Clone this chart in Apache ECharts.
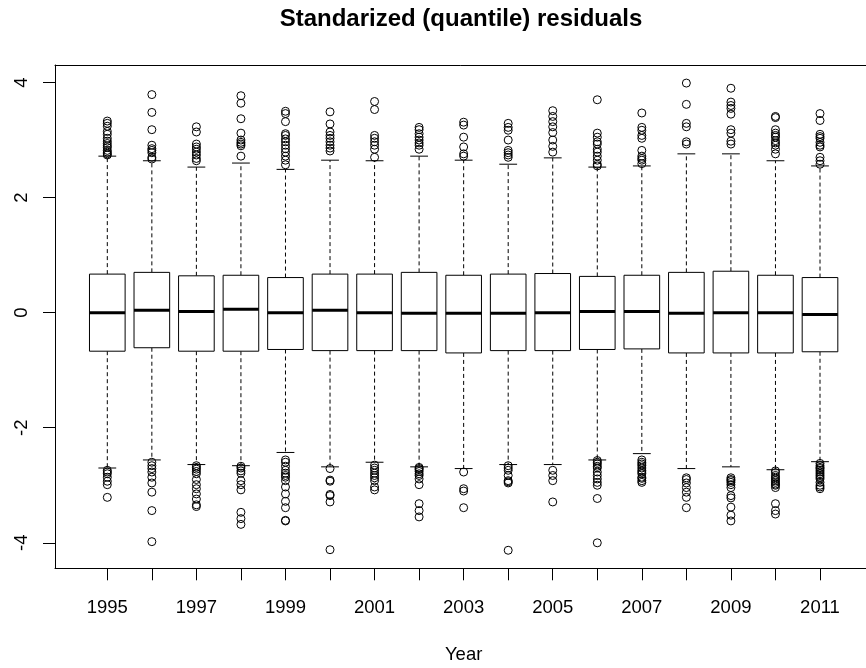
<!DOCTYPE html>
<html>
<head>
<meta charset="utf-8">
<script src="https://cdn.jsdelivr.net/npm/echarts@6/dist/echarts.min.js"></script>
<style>
html,body{margin:0;padding:0;background:#fff;}
#chart{width:866px;height:668px;}
</style>
</head>
<body>
<div id="chart"></div>
<script>
var years = ['1995','1996','1997','1998','1999','2000','2001','2002','2003','2004','2005','2006','2007','2008','2009','2010','2011'];
var yTicks = [-4, -2, 0, 2, 4];

var lowerWhisker = [-2.70,-2.56,-2.64,-2.66,-2.43,-2.68,-2.60,-2.68,-2.71,-2.64,-2.64,-2.56,-2.45,-2.71,-2.68,-2.73,-2.59];
var q1 = [-0.67,-0.61,-0.67,-0.67,-0.64,-0.66,-0.66,-0.66,-0.70,-0.66,-0.66,-0.64,-0.63,-0.70,-0.70,-0.70,-0.68];
var median = [0.00,0.04,0.02,0.06,0.00,0.04,0.00,-0.01,-0.01,-0.01,0.00,0.02,0.02,-0.01,0.00,0.00,-0.03];
var q3 = [0.67,0.70,0.64,0.65,0.61,0.67,0.67,0.70,0.65,0.67,0.68,0.63,0.65,0.70,0.72,0.65,0.61];
var upperWhisker = [2.72,2.64,2.53,2.60,2.49,2.65,2.64,2.72,2.65,2.58,2.69,2.53,2.55,2.76,2.76,2.64,2.55];

var outliersHigh = [
  [3.33,3.29,3.24,3.15,3.10,3.03,2.98,2.94,2.90,2.87,2.82,2.79,2.76,2.74],
  [3.79,3.48,3.18,2.91,2.85,2.82,2.78,2.70,2.67],
  [3.23,3.14,2.93,2.88,2.84,2.79,2.74,2.68,2.64],
  [3.77,3.64,3.37,3.12,3.00,2.96,2.93,2.90,2.72],
  [3.50,3.46,3.32,3.11,3.08,3.02,2.97,2.91,2.85,2.79,2.72,2.65,2.57],
  [3.49,3.28,3.14,3.08,3.03,2.97,2.91,2.86,2.81],
  [3.67,3.53,3.08,3.03,2.97,2.91,2.84,2.70],
  [3.22,3.18,3.11,3.05,3.00,2.95,2.91,2.84],
  [3.31,3.26,3.05,2.88,2.76,2.72],
  [3.29,3.22,3.17,3.00,2.82,2.78,2.74,2.70],
  [3.51,3.41,3.32,3.23,3.13,3.00,2.89,2.79],
  [3.70,3.12,3.05,2.97,2.93,2.84,2.79,2.72,2.65,2.58,2.55],
  [3.47,3.22,3.17,3.08,3.03,2.82,2.72,2.68,2.65,2.59],
  [3.99,3.62,3.29,3.23,2.97,2.93],
  [3.90,3.66,3.60,3.55,3.45,3.18,3.12,2.98,2.93],
  [3.41,3.39,3.18,3.12,3.08,3.05,2.99,2.95,2.91,2.84,2.76],
  [3.46,3.34,3.10,3.06,3.03,2.96,2.91,2.88,2.70,2.64,2.58]
];

var outliersLow = [
  [-2.74,-2.77,-2.80,-2.86,-2.93,-2.99,-3.21],
  [-2.60,-2.66,-2.71,-2.77,-2.86,-2.96,-3.12,-3.44,-3.98],
  [-2.66,-2.69,-2.72,-2.76,-2.80,-2.90,-2.99,-3.06,-3.15,-3.24,-3.34,-3.37],
  [-2.67,-2.70,-2.75,-2.79,-2.92,-2.99,-3.08,-3.47,-3.58,-3.68],
  [-2.56,-2.60,-2.67,-2.74,-2.79,-2.83,-2.86,-2.92,-3.03,-3.15,-3.28,-3.39,-3.61,-3.62],
  [-2.71,-2.91,-2.93,-3.16,-3.18,-3.29,-4.12],
  [-2.65,-2.70,-2.74,-2.79,-2.83,-2.87,-2.92,-3.03,-3.08],
  [-2.69,-2.71,-2.73,-2.76,-2.80,-2.83,-2.89,-2.99,-3.32,-3.44,-3.55],
  [-2.77,-3.06,-3.10,-3.39],
  [-2.66,-2.70,-2.74,-2.83,-2.92,-2.94,-2.96,-4.13],
  [-2.74,-2.83,-2.92,-3.29],
  [-2.57,-2.60,-2.63,-2.67,-2.70,-2.77,-2.83,-2.89,-2.95,-3.00,-3.23,-4.00],
  [-2.56,-2.60,-2.63,-2.66,-2.70,-2.74,-2.77,-2.80,-2.86,-2.88,-2.92,-2.95],
  [-2.87,-2.90,-2.96,-3.04,-3.12,-3.21,-3.39],
  [-2.87,-2.90,-2.92,-2.95,-2.99,-3.04,-3.18,-3.22,-3.38,-3.52,-3.62],
  [-2.75,-2.78,-2.83,-2.86,-2.89,-2.92,-2.95,-2.98,-3.00,-3.04,-3.32,-3.44,-3.50],
  [-2.62,-2.66,-2.69,-2.71,-2.74,-2.77,-2.80,-2.83,-2.86,-2.89,-2.95,-3.00,-3.03,-3.06]
];

var boxData = years.map(function (y, i) {
  return [i + 1, lowerWhisker[i], q1[i], median[i], q3[i], upperWhisker[i]];
});
var outlierData = [];
years.forEach(function (y, i) {
  outliersHigh[i].forEach(function (v) { outlierData.push([i + 1, v]); });
  outliersLow[i].forEach(function (v) { outlierData.push([i + 1, v]); });
});

var FONT = '"Liberation Sans", Arial, sans-serif';
var chart = echarts.init(document.getElementById('chart'), null, {renderer: 'canvas'});

function renderBox(params, api) {
  var x = api.value(0);
  var half = api.size([0.8, 0])[0] / 2;
  var capHalf = half / 2;
  var pLow = api.coord([x, api.value(1)]);
  var pQ1 = api.coord([x, api.value(2)]);
  var pMed = api.coord([x, api.value(3)]);
  var pQ3 = api.coord([x, api.value(4)]);
  var pHigh = api.coord([x, api.value(5)]);
  var cx = pMed[0];
  var dash = {stroke: '#000', lineWidth: 1, lineDash: [4, 3]};
  var solid = {stroke: '#000', lineWidth: 1};
  return {
    type: 'group',
    children: [
      {type: 'line', shape: {x1: cx, y1: pQ3[1], x2: cx, y2: pHigh[1]}, style: dash},
      {type: 'line', shape: {x1: cx, y1: pQ1[1], x2: cx, y2: pLow[1]}, style: dash},
      {type: 'line', shape: {x1: cx - capHalf, y1: pHigh[1], x2: cx + capHalf, y2: pHigh[1]}, style: solid},
      {type: 'line', shape: {x1: cx - capHalf, y1: pLow[1], x2: cx + capHalf, y2: pLow[1]}, style: solid},
      {type: 'rect', shape: {x: cx - half, y: pQ3[1], width: 2 * half, height: pQ1[1] - pQ3[1]},
        style: {fill: '#fff', stroke: '#000', lineWidth: 1}},
      {type: 'line', shape: {x1: cx - half, y1: pMed[1], x2: cx + half, y2: pMed[1]},
        style: {stroke: '#000', lineWidth: 3}}
    ]
  };
}

function frameAxis(gridIndex, position) {
  return {
    type: 'value', gridIndex: gridIndex, min: 0, max: 1, position: position,
    axisLine: {show: true, onZero: false, lineStyle: {color: '#000', width: 1}},
    axisTick: {show: false}, axisLabel: {show: false}, splitLine: {show: false}
  };
}

var option = {
  animation: false,
  backgroundColor: '#fff',
  textStyle: {fontFamily: FONT},
  title: {
    text: 'Standarized (quantile) residuals',
    left: 461,
    top: 7,
    padding: 0,
    textAlign: 'center',
    textStyle: {fontFamily: FONT, fontWeight: 'bold', fontSize: 24, color: '#000'}
  },
  grid: [
    {left: 107.3, right: 46, top: 82.5, bottom: 125.2, containLabel: false, outerBoundsMode: 'none'},
    {left: 55, width: 818, top: 65, bottom: 99.7, show: false, containLabel: false, outerBoundsMode: 'none'}
  ],
  xAxis: [
    {
      type: 'value', gridIndex: 0, min: 1, max: 17, interval: 1, offset: 25.5,
      position: 'bottom',
      splitLine: {show: false},
      axisLine: {show: true, onZero: false, lineStyle: {color: '#000', width: 1}},
      axisTick: {show: true, length: 12, lineStyle: {color: '#000', width: 1}},
      axisLabel: {
        show: true, margin: 30, fontSize: 18.5, color: '#000', fontFamily: FONT,
        formatter: function (v) {
          var i = Math.round(v) - 1;
          return (i % 2 === 0) ? years[i] : '';
        }
      },
      name: 'Year', nameLocation: 'middle', nameGap: 77,
      nameTextStyle: {fontSize: 18.5, color: '#000', fontFamily: FONT}
    },
    frameAxis(1, 'bottom'),
    frameAxis(1, 'top')
  ],
  yAxis: [
    {
      type: 'value', gridIndex: 0, min: yTicks[0], max: yTicks[yTicks.length - 1], interval: 2,
      offset: 52.3, position: 'left',
      splitLine: {show: false},
      axisLine: {show: true, onZero: false, lineStyle: {color: '#000', width: 1}},
      axisTick: {show: true, length: 12, lineStyle: {color: '#000', width: 1}},
      axisLabel: {show: true, rotate: 90, margin: 24, fontSize: 18.5, color: '#000', fontFamily: FONT}
    },
    frameAxis(1, 'left'),
    frameAxis(1, 'right')
  ],
  series: [
    {
      type: 'custom',
      xAxisIndex: 0, yAxisIndex: 0,
      renderItem: renderBox,
      encode: {x: 0, y: [1, 2, 3, 4, 5]},
      data: boxData,
      clip: false,
      z: 2
    },
    {
      type: 'scatter',
      xAxisIndex: 0, yAxisIndex: 0,
      data: outlierData,
      symbol: 'circle',
      symbolSize: 8,
      itemStyle: {color: 'rgba(0,0,0,0)', borderColor: '#000', borderWidth: 1, opacity: 1},
      emphasis: {disabled: true},
      clip: false,
      z: 3
    }
  ]
};
chart.setOption(option);
</script>
</body>
</html>
